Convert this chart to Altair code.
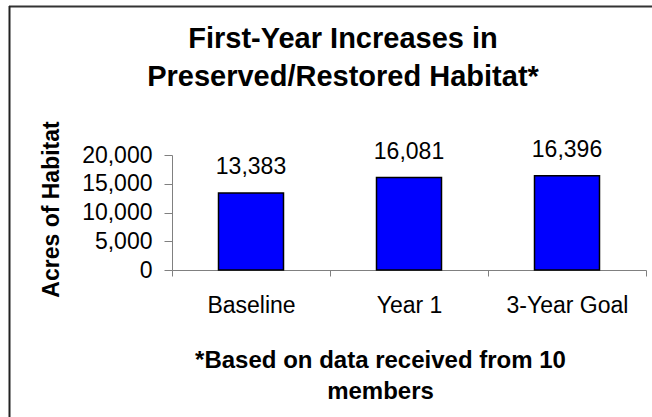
import altair as alt
import pandas as pd

# Acres of preserved/restored habitat by reporting period
periods = ["Baseline", "Year 1", "3-Year Goal"]
acres = [13383, 16081, 16396]

title_lines = ["First-Year Increases in", "Preserved/Restored Habitat*"]
footnote_lines = ["*Based on data received from 10", "members"]
y_ticks = [0, 5000, 10000, 15000, 20000]

FONT = "Liberation Sans"

df = pd.DataFrame({"period": periods, "acres": acres})

x_enc = alt.X(
    "period:N",
    sort=periods,
    scale=alt.Scale(paddingInner=0, paddingOuter=0),
    axis=alt.Axis(
        title=footnote_lines,
        titleFontSize=24,
        titleFontWeight="bold",
        titleLineHeight=31,
        titleBaseline="alphabetic",
        titleX=208,
        titleY=97,
        titleAnchor="middle",
        titleAlign="center",
        labelAngle=0,
        labelFontSize=23,
        labelPadding=18,
        labelBaseline="top",
        tickBand="extent",
        tickSize=6,
        domainColor="#808080",
        tickColor="#808080",
    ),
)

y_enc = alt.Y(
    "acres:Q",
    scale=alt.Scale(domain=[0, 20000], nice=False),
    axis=alt.Axis(
        title="Acres of Habitat",
        titleFontSize=23,
        titleFontWeight="bold",
        titleAngle=270,
        titleBaseline="middle",
        titleAlign="center",
        titleX=-121,
        titleY=54,
        values=y_ticks,
        format=",.0f",
        labelFontSize=23,
        labelPadding=12,
        tickSize=8,
        grid=False,
        domainColor="#808080",
        tickColor="#808080",
    ),
)

bars = alt.Chart(df).mark_bar(
    size=65, color="#0000FF", stroke="black", strokeWidth=1.5
).encode(x=x_enc, y=y_enc)

labels = alt.Chart(df).mark_text(
    baseline="alphabetic", dy=-19, fontSize=23, font=FONT, color="black"
).encode(
    x=x_enc,
    y=y_enc,
    text=alt.Text("acres:Q", format=",.0f"),
)

# Outer frame edges (top and left)
frame_df = pd.DataFrame({"k": [0]})
frame_top = alt.Chart(frame_df).mark_rule(color="#333333", strokeWidth=2).encode(
    x=alt.value(-163), x2=alt.value(480), y=alt.value(-148.5)
)
frame_left = alt.Chart(frame_df).mark_rule(color="#222222", strokeWidth=2).encode(
    x=alt.value(-162.5), y=alt.value(-149), y2=alt.value(262)
)

chart = (
    alt.layer(bars, labels, frame_top, frame_left)
    .properties(
        width=474,
        height=115,
        title=alt.TitleParams(
            text=title_lines,
            fontSize=29,
            fontWeight="bold",
            font=FONT,
            lineHeight=38,
            anchor="middle",
            frame="group",
            dx=-66,
            dy=91,
        ),
        autosize=alt.AutoSizeParams(type="none"),
        padding={"left": 172, "top": 155, "right": 6, "bottom": 147},
        background="white",
    )
    .configure(font=FONT)
    .configure_view(stroke=None)
    .configure_axis(labelFont=FONT, titleFont=FONT, labelColor="black", titleColor="black")
)

chart.save("out.html", embed_options={"renderer": "svg", "actions": False})
